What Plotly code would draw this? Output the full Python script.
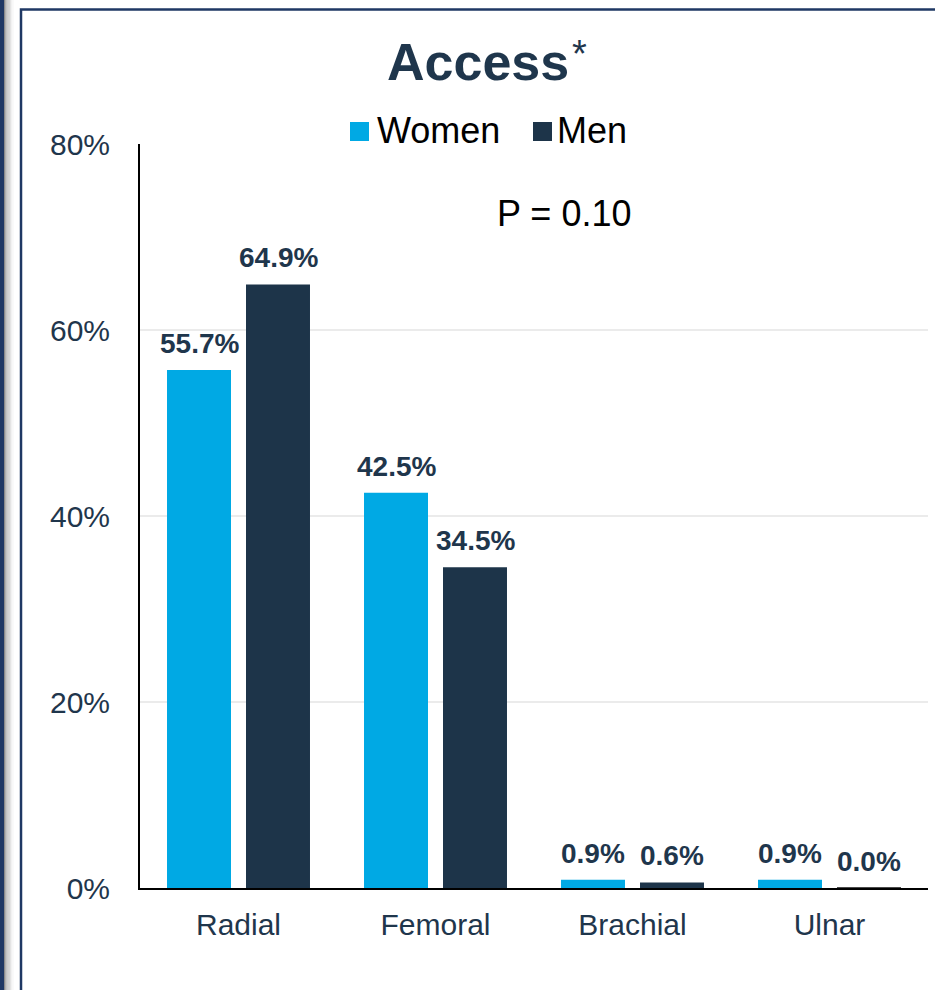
import plotly.graph_objects as go

categories = ["Radial", "Femoral", "Brachial", "Ulnar"]
women = [55.7, 42.5, 0.9, 0.9]
men = [64.9, 34.5, 0.6, 0.0]
y_ticks = [0, 20, 40, 60, 80]
y_tick_labels = ["0%", "20%", "40%", "60%", "80%"]

W, H = 935, 990
L, R, T, B = 140, 7, 144, 102
PW, PH = W - L - R, H - T - B

def px(x):
    return (x - L) / PW

def py(y):
    return (H - B - y) / PH

FONT = "Arial, Liberation Sans, sans-serif"
C_WOMEN = "#00A9E4"
C_MEN = "#1D3449"
C_TEXT = "#1F364C"
BAR_OFFSET = 39.5  # px offset of each bar center from category center

fig = go.Figure()
fig.add_trace(go.Bar(
    x=categories, y=women, name="Women",
    marker=dict(color=C_WOMEN, line=dict(width=0)),
))
fig.add_trace(go.Bar(
    x=categories, y=men, name="Men",
    marker=dict(color=C_MEN, line=dict(width=[0, 0, 0, 2], color="#4a4a4a")),
))

shapes = []
shapes.append(dict(type="rect", xref="paper", yref="paper",
                   x0=px(0), x1=px(4), y0=py(-10), y1=py(1000),
                   fillcolor="#1F3864", line=dict(width=0), layer="above"))
grays = ["#8a8a8a", "#a0a0a0", "#b4b4b4", "#c6c6c6", "#d6d6d6", "#e4e4e4", "#efefef", "#f7f7f7"]
for i, g in enumerate(grays):
    shapes.append(dict(type="rect", xref="paper", yref="paper",
                       x0=px(4 + i * 1.2), x1=px(5.2 + i * 1.2), y0=py(-10), y1=py(1000),
                       fillcolor=g, line=dict(width=0), layer="above"))
shapes.append(dict(type="rect", xref="paper", yref="paper",
                   x0=px(21), x1=px(945), y0=py(1000), y1=py(9.5),
                   line=dict(color="#1F3864", width=2.5), fillcolor="rgba(0,0,0,0)"))
shapes.append(dict(type="rect", xref="paper", yref="paper",
                   x0=px(350), x1=px(369), y0=py(141), y1=py(122),
                   fillcolor=C_WOMEN, line=dict(width=0)))
shapes.append(dict(type="rect", xref="paper", yref="paper",
                   x0=px(533), x1=px(552), y0=py(141), y1=py(122),
                   fillcolor=C_MEN, line=dict(width=0)))

annotations = [
    dict(text="<b>Access</b>", xref="paper", yref="paper",
         x=px(478), y=py(62), xanchor="center", yanchor="middle", showarrow=False,
         font=dict(family=FONT, size=52, color=C_TEXT)),
    dict(text="*", xref="paper", yref="paper",
         x=px(579), y=py(54), xanchor="center", yanchor="middle", showarrow=False,
         font=dict(family=FONT, size=38, color=C_TEXT)),
    dict(text="Women", xref="paper", yref="paper", x=px(375), y=py(131),
         xanchor="left", yanchor="middle", showarrow=False,
         font=dict(family=FONT, size=36, color="#000000")),
    dict(text="Men", xref="paper", yref="paper", x=px(555), y=py(131),
         xanchor="left", yanchor="middle", showarrow=False,
         font=dict(family=FONT, size=36, color="#000000")),
    dict(text="P = 0.10", xref="paper", yref="paper", x=px(564), y=py(213),
         xanchor="center", yanchor="middle", showarrow=False,
         font=dict(family=FONT, size=36, color="#000000")),
]

for vals, shift in ((women, -BAR_OFFSET), (men, BAR_OFFSET)):
    for c, v in zip(categories, vals):
        annotations.append(dict(
            text=f"<b>{v:.1f}%</b>", x=c, y=v, xref="x", yref="y",
            xshift=shift, yshift=9, xanchor="center", yanchor="bottom",
            showarrow=False, font=dict(family=FONT, size=28, color=C_TEXT)))

fig.update_layout(
    width=W, height=H,
    margin=dict(l=L, r=R, t=T, b=B, pad=0),
    paper_bgcolor="white", plot_bgcolor="white",
    barmode="group", bargap=0.198, bargroupgap=0.19,
    showlegend=False,
    shapes=shapes, annotations=annotations,
    font=dict(family=FONT, color=C_TEXT),
)
fig.update_yaxes(
    range=[0, 80], tickvals=y_ticks, ticktext=y_tick_labels,
    showgrid=True, gridcolor="#EBEBEB", gridwidth=2,
    showline=True, linecolor="#000000", linewidth=2,
    zeroline=False, ticks="", ticklabelstandoff=22,
    tickfont=dict(family=FONT, size=30, color=C_TEXT),
)
fig.update_xaxes(
    showline=True, linecolor="#000000", linewidth=2,
    showgrid=False, ticks="", ticklabelstandoff=9,
    tickfont=dict(family=FONT, size=30, color=C_TEXT),
)

fig.write_html("out.html")
